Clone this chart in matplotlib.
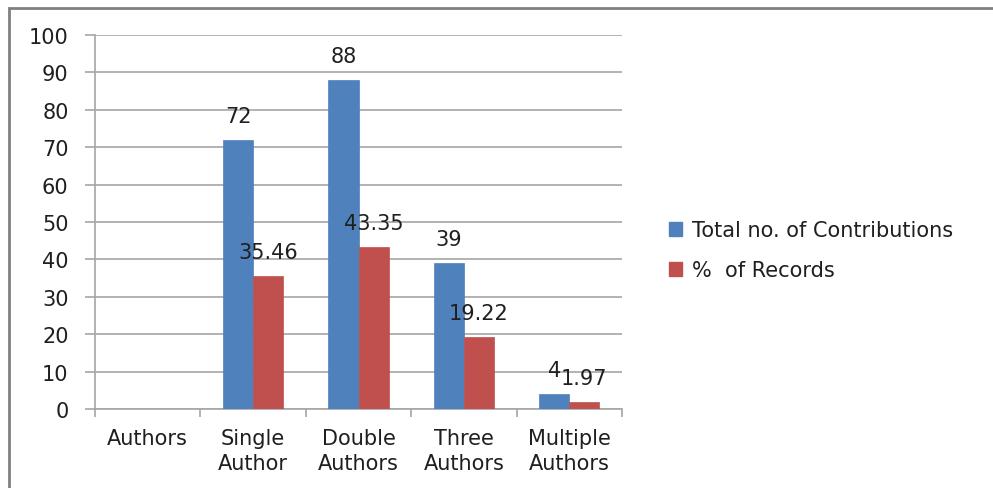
import numpy as np
import matplotlib.pyplot as plt
from matplotlib.patches import Patch, Rectangle

plt.rcParams['font.family'] = ['DejaVu Sans']

# Data
categories = ["Authors", "Single\nAuthor", "Double\nAuthors", "Three\nAuthors", "Multiple\nAuthors"]
contributions = [np.nan, 72, 88, 39, 4]
records_pct = [np.nan, 35.46, 43.35, 19.22, 1.97]
contrib_labels = ["", "72", "88", "39", "4"]
pct_labels = ["", "35.46", "43.35", "19.22", "1.97"]

blue = "#4F81BD"
red = "#C0504D"
grid_col = "#A6A6A6"
text_col = "#1F1F1F"
fs = 15

fig = plt.figure(figsize=(9.93, 4.89), dpi=100)
ax = fig.add_axes([95 / 993, 1 - 410 / 489, 527 / 993, 374 / 489])

x = np.arange(len(categories))
w = 0.285
ax.bar(x - w / 2, contributions, w, color=blue, edgecolor=blue, linewidth=0.5, zorder=3)
ax.bar(x + w / 2, records_pct, w, color=red, edgecolor=red, linewidth=0.5, zorder=3)

# value labels above each bar
for xi, v, lab in zip(x, contributions, contrib_labels):
    if lab:
        ax.annotate(lab, (xi - w / 2, v), xytext=(0, 10), textcoords="offset points",
                    ha="center", va="bottom", fontsize=fs, color=text_col)
for xi, v, lab in zip(x, records_pct, pct_labels):
    if lab:
        ax.annotate(lab, (xi + w / 2, v), xytext=(0, 10), textcoords="offset points",
                    ha="center", va="bottom", fontsize=fs, color=text_col)

ax.set_xlim(-0.5, len(categories) - 0.5)
ax.set_ylim(0, 100)
ax.set_yticks(np.arange(0, 101, 10))
ax.yaxis.grid(True, color=grid_col, linewidth=1.2, zorder=0)
ax.set_axisbelow(True)

ax.set_xticks(x)
ax.set_xticklabels(categories, fontsize=fs, color=text_col, linespacing=1.3)
ax.tick_params(axis="x", length=0, pad=14)
ax.set_xticks(np.arange(-0.5, len(categories), 1), minor=True)
ax.tick_params(axis="x", which="minor", length=6, color=grid_col, width=1.2)
ax.tick_params(axis="y", length=7, color=grid_col, width=1.2, labelsize=fs,
               labelcolor=text_col, pad=12)

for side in ["top", "right"]:
    ax.spines[side].set_visible(False)
for side in ["left", "bottom"]:
    ax.spines[side].set_color(grid_col)
    ax.spines[side].set_linewidth(1.2)

handles = [Patch(facecolor=blue, edgecolor=blue), Patch(facecolor=red, edgecolor=red)]
fig.legend(handles, ["Total no. of Contributions", "%  of Records"],
           loc="center left", bbox_to_anchor=(650 / 993, 1 - 251 / 489),
           frameon=False, fontsize=fs, handlelength=0.65, handleheight=0.65,
           handletextpad=0.45, labelspacing=0.95, labelcolor=text_col)

# outer chart border
fig.patches.append(Rectangle((9 / 993, -0.1), 1.2, 1 - 9 / 489 + 0.1,
                             transform=fig.transFigure, fill=False,
                             edgecolor="#808080", linewidth=2))

fig.savefig("out.png", dpi=100)
